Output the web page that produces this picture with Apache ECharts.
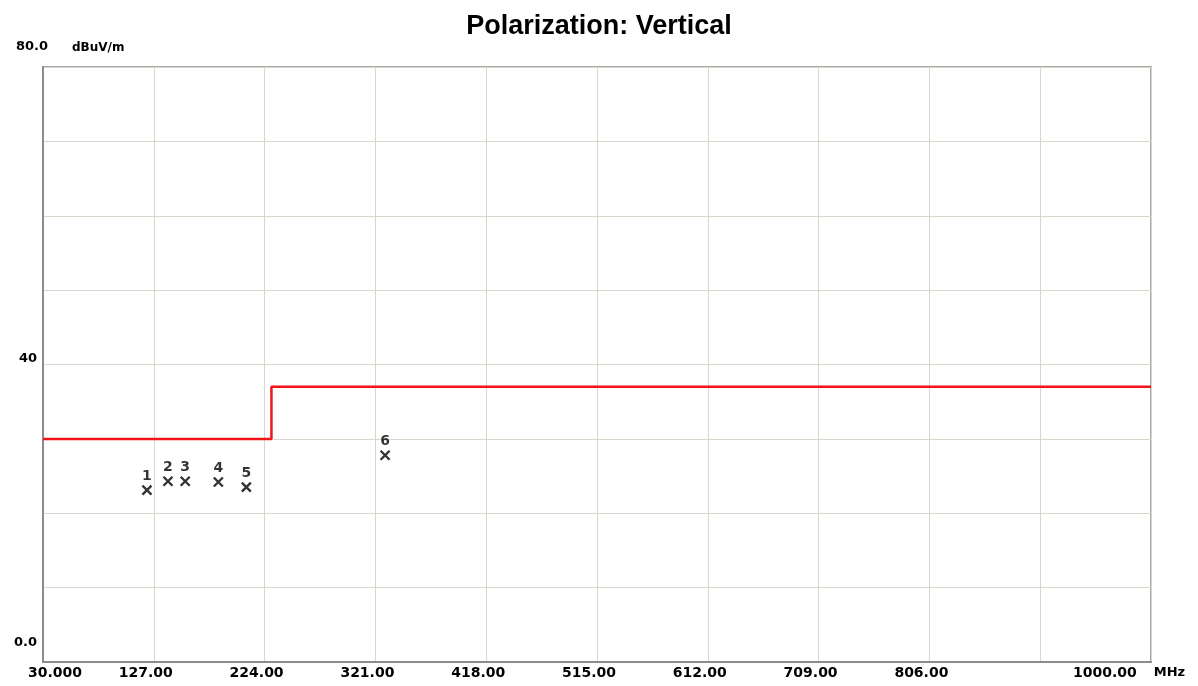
<!DOCTYPE html>
<html>
<head>
<meta charset="utf-8">
<script src="https://cdn.jsdelivr.net/npm/echarts@6/dist/echarts.min.js"></script>
<style>html,body{margin:0;padding:0;background:#fff;}#c{width:1198px;height:686px;}</style>
</head>
<body>
<div id="c"></div>
<script>
const titleText = 'Polarization: Vertical';
const yUnit = 'dBuV/m';
const xUnit = 'MHz';
const xTickValues = [30,127,224,321,418,515,612,709,806,903,1000];
const xTickLabels = ['30.000','127.00','224.00','321.00','418.00','515.00','612.00','709.00','806.00','','1000.00'];
const yTickLabels = {0:'0.0',40:'40',80:'80.0'};
const limitFreq = [30,230,230,1000];
const limitLevel = [30,30,37,37];
const markerNames = ['1','2','3','4','5','6'];
const markerFreq = [121,139.4,154.5,183.5,208,329.5];
const markerLevel = [23.1,24.3,24.3,24.2,23.5,27.8];

const chart = echarts.init(document.getElementById('c'));
const font = 'DejaVu Sans';
chart.setOption({
  animation:false,
  backgroundColor:'#fff',
  title:{text:titleText,left:'center',top:8,
    textStyle:{fontFamily:'Liberation Sans',fontWeight:'bold',fontSize:27,color:'#000'}},
  grid:{left:43,right:47,top:67,bottom:24,containLabel:false,outerBoundsMode:'none',show:true,borderColor:'#a8a8a8',borderWidth:2,backgroundColor:'#fff'},
  xAxis:{type:'value',min:30,max:1000,interval:97,
    axisLine:{show:true,lineStyle:{color:'#8c8c8c',width:2}},
    axisTick:{show:false},
    splitLine:{show:true,lineStyle:{color:'#d9d6cc',width:1}},
    axisLabel:{margin:4,fontFamily:font,fontWeight:'bold',fontSize:14,color:'#000',
      formatter:function(v){
        const i = xTickValues.indexOf(Math.round(v));
        if(i<0) return '';
        const t = xTickLabels[i];
        if(!t) return '';
        if(i===0) return '{f|'+t+'}';
        if(i===xTickValues.length-1) return '{l|'+t+'}{u|'+xUnit+'}';
        return '{m|'+t+'}';
      },
      rich:{
        f:{fontFamily:font,fontWeight:'bold',fontSize:14,color:'#000',padding:[0,0,0,24]},
        m:{fontFamily:font,fontWeight:'bold',fontSize:14,color:'#000',padding:[0,16,0,0]},
        l:{fontFamily:font,fontWeight:'bold',fontSize:14,color:'#000',padding:[0,17,0,0]},
        u:{fontFamily:font,fontWeight:'bold',fontSize:13,color:'#000',padding:[0,44,0,0]}
      }
    }
  },
  yAxis:{type:'value',min:0,max:80,interval:10,
    name:yUnit,nameLocation:'end',nameGap:19,
    nameTextStyle:{fontFamily:font,fontWeight:'bold',fontSize:12,color:'#000',align:'left',verticalAlign:'middle',padding:[0,0,0,29]},
    axisLine:{show:true,lineStyle:{color:'#8c8c8c',width:2}},
    axisTick:{show:false},
    splitLine:{show:true,lineStyle:{color:'#d9d6cc',width:1}},
    axisLabel:{margin:-5,fontFamily:font,fontWeight:'bold',fontSize:13,color:'#000',
      formatter:function(v){
        const t = yTickLabels[Math.round(v)];
        if(t===undefined) return '';
        if(v===80) return '{a|'+t+'}';
        if(v===40) return '{b|'+t+'}';
        return '{c|'+t+'}';
      },
      rich:{
        a:{fontFamily:font,fontWeight:'bold',fontSize:13,color:'#000',padding:[0,0,40,0]},
        b:{fontFamily:font,fontWeight:'bold',fontSize:13,color:'#000',padding:[0,11,12,0]},
        c:{fontFamily:font,fontWeight:'bold',fontSize:13,color:'#000',padding:[0,11,38,0]}
      }
    }
  },
  series:[
    {type:'line',data:limitFreq.map((f,i)=>[f,limitLevel[i]]),symbol:'none',
      lineStyle:{color:'#f0141a',width:2.5},z:3},
    {type:'scatter',data:markerFreq.map((f,i)=>({name:markerNames[i],value:[f,markerLevel[i]]})),
      symbol:'path://M0,0L10,10M10,0L0,10',symbolSize:9,
      itemStyle:{color:'rgba(0,0,0,0)',borderColor:'#000',borderWidth:2.4},
      label:{show:true,position:'top',distance:1,formatter:'{b}',fontFamily:font,fontWeight:'bold',fontSize:14,color:'#000'},
      z:4}
  ]
});
</script>
</body>
</html>
